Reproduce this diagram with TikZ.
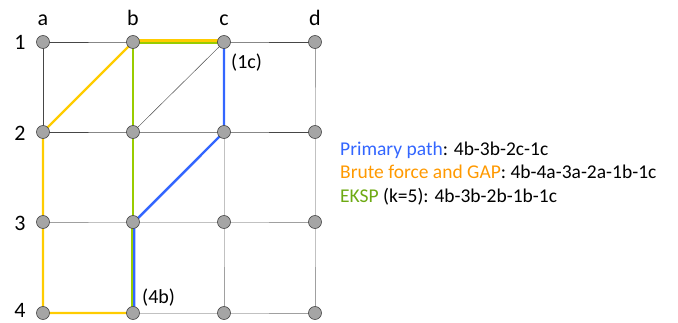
\documentclass[tikz,border=0pt]{standalone}
\usepackage{fontspec}
\setmainfont{Carlito}
\usepackage{xcolor}
\usetikzlibrary{positioning}
\definecolor{pathBlue}{RGB}{51,102,255}
\definecolor{pathYellow}{RGB}{255,204,0}
\definecolor{pathGreen}{RGB}{153,204,0}
\definecolor{labelOrange}{RGB}{255,153,0}
\definecolor{labelGreen}{RGB}{110,170,20}
\definecolor{gridDark}{RGB}{70,70,70}
\definecolor{gridLight}{RGB}{160,160,160}
\definecolor{vertexFill}{RGB}{165,165,165}
\tikzset{
    vertex/.style={
        circle,
        draw=gridDark,
        fill=vertexFill,
        line width=0.6pt,
        inner sep=0pt,
        minimum size=13pt
    },
    darkedge/.style={draw=gridDark, line width=0.9pt},
    lightedge/.style={draw=gridLight, line width=0.9pt},
    thinedge/.style={draw=gridDark, line width=0.45pt},
    primary/.style={draw=pathBlue, line width=2.4pt},
    brute/.style={draw=pathYellow, line width=2.4pt},
    eksp/.style={draw=pathGreen, line width=2.4pt},
    axislabel/.style={anchor=base, inner sep=0pt, font=\fontsize{22}{26}\selectfont},
    tag/.style={anchor=base west, inner sep=0pt, font=\fontsize{20}{24}\selectfont},
    legend/.style={anchor=base west, inner sep=0pt, font=\fontsize{19.5}{23}\selectfont}
}
\begin{document}
\begin{tikzpicture}[x=1pt, y=1pt]
    \path[use as bounding box] (0,0) rectangle (678,322);
    % grid vertices
    \foreach \c/\x in {a/43, b/133, c/224, d/315} {
        \foreach \r/\y in {1/280, 2/190, 3/100, 4/9} {
            \coordinate (p\r\c) at (\x,\y);
        }
    }
    % grid edges
    \draw[darkedge] (p1a) -- (p1b) -- (p1c) -- (p1d);
    \draw[darkedge] (p2a) -- (p2b) -- (p2c) -- (p2d);
    \draw[darkedge] (p1a) -- (p2a);
    \draw[thinedge] (p2b) -- (p1c);
    \draw[lightedge] (p1d) -- (p2d) -- (p3d) -- (p4d);
    \draw[lightedge] (p2c) -- (p3c) -- (p4c);
    \draw[lightedge] (p3a) -- (p3b) -- (p3c) -- (p3d);
    \draw[lightedge] (p4a) -- (p4b) -- (p4c) -- (p4d);
    \draw[lightedge] (p2a) -- (p3a) -- (p4a);
    \draw[lightedge] (p2b) -- (p3b) -- (p4b);
    % brute force and GAP
    \draw[brute] (p4b) -- (p4a) -- (p3a) -- (p2a) -- (p1b);
    \draw[brute] ([yshift=1.3pt]p1b) -- ([yshift=1.3pt]p1c);
    % EKSP (k=5)
    \draw[eksp] ([xshift=-1.2pt]p4b) -- ([xshift=-1.2pt]p3b);
    \draw[eksp] (p3b) -- (p2b) -- (p1b);
    \draw[eksp] ([yshift=-1.3pt]p1b) -- ([yshift=-1.3pt]p1c);
    % primary path
    \draw[primary] ([xshift=1.2pt]p4b) -- ([xshift=1.2pt]p3b) -- (p2c) -- (p1c);
    % vertices on top
    \foreach \r in {1,2,3,4} {
        \foreach \c in {a,b,c,d} {
            \node[vertex] (v\r\c) at (p\r\c) {};
        }
    }
    % axis labels
    \node[axislabel] (cola) at (43,296) {a};
    \node[axislabel] (colb) at (133,296) {b};
    \node[axislabel] (colc) at (224,296) {c};
    \node[axislabel] (cold) at (315,296) {d};
    \node[axislabel] (row1) at (20,272) {1};
    \node[axislabel] (row2) at (20,182) {2};
    \node[axislabel] (row3) at (20,92) {3};
    \node[axislabel] (row4) at (20,5) {4};
    \node[tag] (src) at (231,253) {(1c)};
    \node[tag] (dst) at (142,19) {(4b)};
    % legend
    \node[legend] (legprimary) at (340,167) {\textcolor{pathBlue}{Primary path}: 4b-3b-2c-1c};
    \node[legend] (legbrute) at (340,143) {\textcolor{labelOrange}{Brute force and GAP}: 4b-4a-3a-2a-1b-1c};
    \node[legend] (legeksp) at (340,120) {\textcolor{labelGreen}{EKSP} (k=5): 4b-3b-2b-1b-1c};
\end{tikzpicture}
\end{document}
